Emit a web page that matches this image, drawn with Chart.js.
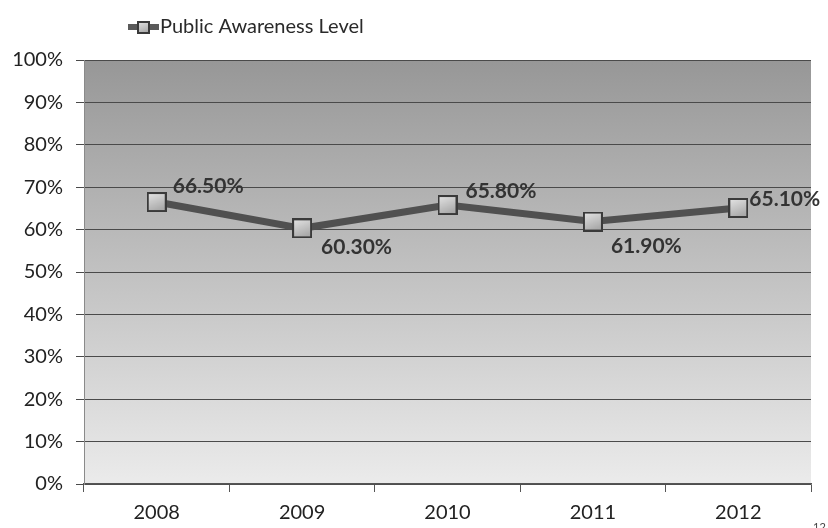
<!DOCTYPE html>
<html>
<head>
<meta charset="utf-8">
<script src="https://cdn.jsdelivr.net/npm/chart.js@4.4.1/dist/chart.umd.min.js"></script>
<style>
  html, body { margin: 0; padding: 0; background: #fff; }
  #wrap { position: relative; width: 828px; height: 528px; }
</style>
</head>
<body>
<div id="wrap"><canvas id="awareness" width="828" height="528"></canvas></div>
<script>
// Survey results per year
var years = ['2008', '2009', '2010', '2011', '2012'];
var awareness = [66.5, 60.3, 65.8, 61.9, 65.1];
var yTicks = [0, 10, 20, 30, 40, 50, 60, 70, 80, 90, 100];
var seriesName = 'Public Awareness Level';

var FONT = 'Lato, "DejaVu Sans", sans-serif';

// square marker with a light bevel, reused by the legend icon
function makeMarker(size) {
    var c = document.createElement('canvas');
    c.width = size;
    c.height = size;
    var g = c.getContext('2d');
    var grad = g.createLinearGradient(0, 0, size * 0.4, size);
    grad.addColorStop(0, '#e8e8e8');
    grad.addColorStop(1, '#a9a9a9');
    g.fillStyle = grad;
    g.fillRect(1, 1, size - 2, size - 2);
    g.strokeStyle = '#3a3a3a';
    g.lineWidth = 2;
    g.strokeRect(1, 1, size - 2, size - 2);
    return c;
}
var marker = makeMarker(20);
var legendMarker = makeMarker(13);

// grey gradient behind the plot
var plotBackground = {
    id: 'plotBackground',
    beforeDraw: function (chart) {
        var a = chart.chartArea, ctx = chart.ctx;
        var grad = ctx.createLinearGradient(0, a.top, 0, a.bottom);
        grad.addColorStop(0, '#979797');
        grad.addColorStop(0.45, '#bdbdbd');
        grad.addColorStop(1, '#ebebeb');
        ctx.save();
        ctx.fillStyle = grad;
        ctx.fillRect(a.left, a.top, a.right - a.left, a.bottom - a.top);
        ctx.restore();
    }
};

// legend: line icon with marker, then the series name
var topLegend = {
    id: 'topLegend',
    afterDraw: function (chart) {
        var ctx = chart.ctx;
        ctx.save();
        ctx.strokeStyle = '#5a5a5a';
        ctx.lineWidth = 6;
        ctx.beginPath();
        ctx.moveTo(128, 27);
        ctx.lineTo(159, 27);
        ctx.stroke();
        ctx.drawImage(legendMarker, 137, 21);
        ctx.fillStyle = '#2a2a2a';
        ctx.font = '20px ' + FONT;
        ctx.textBaseline = 'middle';
        ctx.fillText(seriesName, 160, 27);
        // page number at the corner
        ctx.font = '11px ' + FONT;
        ctx.fillStyle = '#444';
        ctx.fillText('12', 813, 527);
        ctx.restore();
    }
};

// value labels beside each point
var valueLabels = {
    id: 'valueLabels',
    afterDatasetsDraw: function (chart, args, opts) {
        var ctx = chart.ctx;
        var meta = chart.getDatasetMeta(0);
        var values = chart.data.datasets[0].data;
        ctx.save();
        ctx.font = 'bold 21px ' + FONT;
        ctx.fillStyle = '#333';
        ctx.textBaseline = 'middle';
        ctx.textAlign = 'left';
        meta.data.forEach(function (pt, i) {
            var off = opts.offsets[i];
            ctx.fillText(values[i].toFixed(2) + '%', pt.x + off[0], pt.y + off[1]);
        });
        ctx.restore();
    }
};

new Chart(document.getElementById('awareness'), {
    type: 'line',
    data: {
        labels: years,
        datasets: [{
            label: seriesName,
            data: awareness,
            borderColor: '#505050',
            borderWidth: 7,
            tension: 0,
            pointStyle: marker,
            pointRadius: 10,
            pointHoverRadius: 10
        }]
    },
    options: {
        responsive: false,
        animation: false,
        layout: {
            padding: { top: 60, right: 14, left: 0, bottom: 0 }
        },
        plugins: {
            legend: { display: false },
            tooltip: { enabled: false },
            valueLabels: {
                offsets: [[16, -16], [19, 19], [18, -14], [18, 25], [11, -9]]
            }
        },
        scales: {
            x: {
                offset: true,
                afterFit: function (scale) { scale.height = 44; },
                grid: {
                    offset: true,
                    drawOnChartArea: false,
                    drawTicks: true,
                    tickLength: 8,
                    color: '#555'
                },
                border: { color: '#555', width: 1.5 },
                ticks: {
                    color: '#222',
                    padding: 9,
                    font: { family: FONT, size: 20 }
                }
            },
            y: {
                min: 0,
                max: 100,
                afterFit: function (scale) { scale.width = 84; },
                afterBuildTicks: function (scale) {
                    scale.ticks = yTicks.map(function (v) { return { value: v }; });
                },
                grid: {
                    color: '#4a4a4a',
                    lineWidth: 1,
                    tickLength: 8
                },
                border: { color: '#8a8a8a', width: 1 },
                ticks: {
                    color: '#222',
                    padding: 13,
                    font: { family: FONT, size: 20 },
                    callback: function (v) { return v + '%'; }
                }
            }
        }
    },
    plugins: [plotBackground, topLegend, valueLabels]
});
</script>
</body>
</html>
